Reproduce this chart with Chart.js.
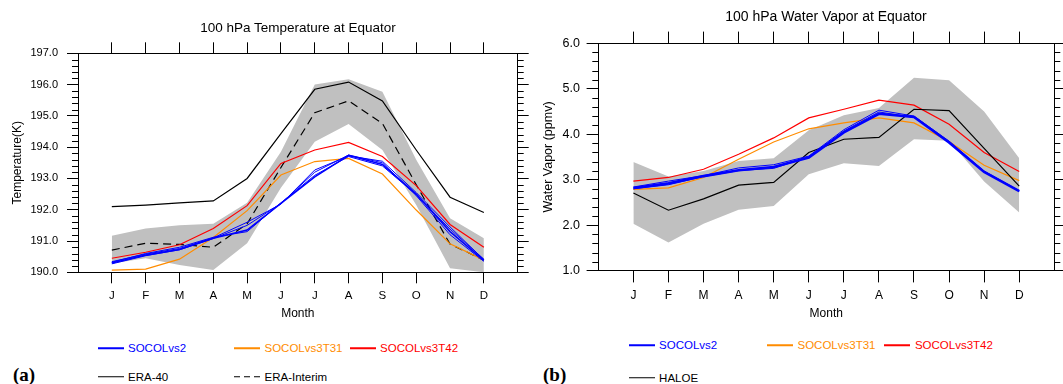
<!DOCTYPE html>
<html>
<head>
<meta charset="utf-8">
<script src="https://cdn.jsdelivr.net/npm/chart.js@4/dist/chart.umd.min.js"></script>
<style>
  html, body { margin:0; padding:0; background:#fff; }
  body { position:relative; width:1063px; height:384px; overflow:hidden;
         font-family:"Liberation Sans", Arial, Helvetica, sans-serif; color:#000; }
  canvas { position:absolute; top:0; }
  #chartT { left:0; }
  #chartW { left:530px; }
  .ttl { position:absolute; transform:translate(-50%,-50%); white-space:nowrap; }
  .lg-line { position:absolute; width:26px; height:1.5px; transform:translateY(-50%); }
  .lg-txt { position:absolute; transform:translateY(-50%); font-size:11.5px; white-space:nowrap; }
  .tag { position:absolute; transform:translateY(-50%); font-family:"Liberation Serif","Times New Roman",serif;
         font-weight:bold; font-size:19px; }
</style>
</head>
<body>
<canvas id="chartT" width="530" height="325"></canvas>
<canvas id="chartW" width="533" height="325"></canvas>
<div class="ttl" style="left:298px;top:26.7px;font-size:13.5px">100 hPa Temperature at Equator</div>
<div class="ttl" style="left:826px;top:15.7px;font-size:14px">100 hPa Water Vapor at Equator</div>
<div id="legend"></div>
<div class="tag" style="left:13px;top:375px">(a)</div>
<div class="tag" style="left:543px;top:375px">(b)</div>

<script>
// --- data ---
const months = ['J','F','M','A','M','J','J','A','S','O','N','D'];

// (a) 100 hPa temperature, K
const tempTicks = [190, 191, 192, 193, 194, 195, 196, 197];
const tempBandHi = [191.17, 191.40, 191.50, 191.55, 192.22, 193.85, 196.00, 196.17, 195.77, 193.60, 191.73, 191.09];
const tempBandLo = [190.28, 190.45, 190.23, 190.07, 190.93, 192.70, 194.17, 194.74, 193.91, 192.15, 190.13, 190.00];
const tempEra40  = [192.10, 192.15, 192.22, 192.28, 193.00, 194.43, 195.85, 196.08, 195.48, 193.91, 192.40, 191.91];
const tempEraInt = [190.71, 190.93, 190.89, 190.80, 191.55, 193.35, 195.10, 195.48, 194.76, 192.80, 190.90, 190.39];
const tempT42    = [190.45, 190.64, 190.88, 191.40, 192.13, 193.48, 193.91, 194.15, 193.70, 192.77, 191.53, 190.80];
const tempT31    = [190.07, 190.10, 190.42, 191.11, 191.97, 193.11, 193.54, 193.64, 193.14, 191.99, 190.91, 190.39];
const tempVs2a   = [190.30, 190.55, 190.73, 191.09, 191.35, 192.20, 193.05, 193.74, 193.45, 192.50, 191.30, 190.38];
const tempVs2b   = [190.34, 190.58, 190.76, 191.10, 191.60, 192.18, 193.27, 193.72, 193.55, 192.55, 191.45, 190.40];
const tempVs2c   = [190.27, 190.53, 190.72, 191.08, 191.50, 192.20, 193.20, 193.75, 193.50, 192.45, 191.20, 190.35];
const tempVs2d   = [190.32, 190.60, 190.80, 191.12, 191.30, 192.22, 193.10, 193.70, 193.40, 192.48, 191.38, 190.42];

// (b) 100 hPa water vapour, ppmv
const wvTicks = [1, 2, 3, 4, 5, 6];
const wvBandHi = [3.39, 3.07, 3.19, 3.41, 3.47, 4.09, 4.42, 4.58, 5.24, 5.19, 4.50, 3.47];
const wvBandLo = [2.03, 1.62, 2.03, 2.34, 2.42, 3.12, 3.36, 3.30, 3.89, 3.86, 2.96, 2.28];
const wvHaloe  = [2.71, 2.33, 2.58, 2.88, 2.94, 3.60, 3.89, 3.93, 4.55, 4.52, 3.69, 2.86];
const wvT42    = [2.97, 3.05, 3.23, 3.56, 3.92, 4.36, 4.55, 4.75, 4.64, 4.22, 3.60, 3.18];
const wvT31    = [2.79, 2.82, 3.05, 3.45, 3.83, 4.12, 4.25, 4.36, 4.25, 3.84, 3.32, 2.98];
const wvVs2a   = [2.82, 2.92, 3.08, 3.21, 3.28, 3.49, 4.04, 4.45, 4.38, 3.82, 3.17, 2.75];
const wvVs2b   = [2.84, 2.97, 3.09, 3.26, 3.33, 3.52, 4.10, 4.53, 4.40, 3.85, 3.19, 2.76];
const wvVs2c   = [2.80, 2.89, 3.07, 3.20, 3.25, 3.50, 4.07, 4.49, 4.37, 3.83, 3.18, 2.75];

const legendA = ['SOCOLvs2', 'SOCOLvs3T31', 'SOCOLvs3T42', 'ERA-40', 'ERA-Interim'];
const legendB = ['SOCOLvs2', 'SOCOLvs3T31', 'SOCOLvs3T42', 'HALOE'];

// --- styling ---
const BLUE = '#0000ff', ORANGE = '#ff8c00', RED = '#ff0000', BLACK = '#000000', GREY = '#c0c0c0';
const FONT = '"Liberation Sans", Arial, Helvetica, sans-serif';

const pts = (arr) => arr.map((v, i) => ({ x: i, y: v }));

const line = (data, color, width, dash) => ({
  data: pts(data), borderColor: color, borderWidth: width, borderDash: dash || [],
  pointRadius: 0, tension: 0, fill: false, order: 1
});

// minor y ticks (0.2 steps) on both sides, placed by the y scale
const minorTicks = {
  id: 'minorTicks',
  afterDraw(chart, args, opts) {
    const { ctx, chartArea: a } = chart;
    const y = chart.scales.y;
    const n = Math.round((y.max - y.min) / opts.step);
    ctx.save();
    ctx.strokeStyle = '#000';
    ctx.lineWidth = 1;
    ctx.beginPath();
    for (let k = 0; k <= n; k++) {
      if (k % opts.per === 0) continue;
      const p = Math.round(y.getPixelForValue(y.min + k * opts.step)) + 0.5;
      ctx.moveTo(a.left, p);  ctx.lineTo(a.left - opts.len, p);
      ctx.moveTo(a.right, p); ctx.lineTo(a.right + opts.len, p);
    }
    ctx.stroke();
    ctx.restore();
  }
};

const monthTicks = (s) => { s.ticks = months.map((m, i) => ({ value: i })); };

const makePanel = (id, o) => {
  const xCommon = {
    type: 'linear', min: -1, max: 12,
    afterBuildTicks: monthTicks,
    grid: { drawOnChartArea: false, drawTicks: true, tickLength: o.tickLen, color: '#000', tickWidth: 1 },
    border: { display: true, color: '#000', width: 1 }
  };
  const yCommon = {
    type: 'linear', min: o.ticks[0], max: o.ticks[o.ticks.length - 1],
    afterBuildTicks: (s) => { s.ticks = o.ticks.map(v => ({ value: v })); },
    grid: { drawOnChartArea: false, drawTicks: true, tickLength: o.tickLen, color: '#000', tickWidth: 1 },
    border: { display: true, color: '#000', width: 1 }
  };
  return new Chart(document.getElementById(id), {
    type: 'line',
    data: { datasets: [
      ...o.lines,
      { data: pts(o.hi), borderWidth: 0, pointRadius: 0, backgroundColor: GREY, fill: '+1', order: 10 },
      { data: pts(o.lo), borderWidth: 0, pointRadius: 0, fill: false, order: 11 }
    ] },
    options: {
      responsive: false, animation: false, devicePixelRatio: 1,
      layout: { padding: 0 },
      plugins: { legend: { display: false }, tooltip: { enabled: false },
                 minorTicks: { step: o.minor, per: o.per, len: 6 } },
      scales: {
        x: { ...xCommon, position: 'bottom',
             ticks: { autoSkip: false, maxRotation: 0, padding: 6, color: '#000',
                      font: { family: FONT, size: o.monthSize }, callback: v => months[v] ?? '' },
             title: { display: true, text: 'Month', color: '#000', padding: { top: 0, bottom: 4 },
                      font: { family: FONT, size: 12 } },
             afterFit: s => { s.height = o.box.bottom; } },
        x2: { ...xCommon, position: 'top', ticks: { display: false },
              afterFit: s => { s.height = o.box.top; } },
        y: { ...yCommon, position: 'left',
             ticks: { padding: o.labelPad, color: '#000', font: { family: FONT, size: o.tickSize },
                      callback: v => Number(v).toFixed(1) },
             title: { display: true, text: o.yTitle, color: '#000', padding: { top: o.titlePad, bottom: 0 },
                      font: { family: FONT, size: o.yTitleSize } },
             afterFit: s => { s.width = o.box.left; } },
        y2: { ...yCommon, position: 'right', ticks: { display: false },
              afterFit: s => { s.width = o.box.right; } }
      }
    },
    plugins: [minorTicks]
  });
};

makePanel('chartT', {
  ticks: tempTicks, minor: 0.2, per: 5, tickLen: 11,
  hi: tempBandHi, lo: tempBandLo,
  box: { left: 78, right: 12.3, top: 53.3, bottom: 52.7 },
  monthSize: 11.5, tickSize: 11, labelPad: 9, yTitle: 'Temperature(K)', yTitleSize: 12, titlePad: 10.8,
  lines: [
    line(tempVs2a, BLUE, 1.6), line(tempVs2b, BLUE, 1), line(tempVs2c, BLUE, 1), line(tempVs2d, BLUE, 1),
    line(tempT42, RED, 1.2), line(tempT31, ORANGE, 1.2),
    line(tempEraInt, BLACK, 1.2, [8, 5]), line(tempEra40, BLACK, 1.2)
  ]
});

makePanel('chartW', {
  ticks: wvTicks, minor: 0.2, per: 5, tickLen: 11.7,
  hi: wvBandHi, lo: wvBandLo,
  box: { left: 68.3, right: 8.7, top: 43.3, bottom: 54.3 },
  monthSize: 12, tickSize: 12.5, labelPad: 6.6, yTitle: 'Water Vapor (ppmv)', yTitleSize: 12.5, titlePad: 11.2,
  lines: [
    line(wvVs2a, BLUE, 2.6), line(wvVs2b, BLUE, 1), line(wvVs2c, BLUE, 1),
    line(wvHaloe, BLACK, 1.2), line(wvT42, RED, 1.2), line(wvT31, ORANGE, 1.2)
  ]
});

// --- legends (HTML) ---
const legendWrap = document.getElementById('legend');
const addItem = (label, color, x, y, dashed) => {
  const ln = document.createElement('div');
  ln.className = 'lg-line';
  ln.style.left = x + 'px';
  ln.style.top = y + 'px';
  ln.style.background = dashed
    ? `repeating-linear-gradient(to right, ${color} 0 6px, transparent 6px 10px)` : color;
  const tx = document.createElement('div');
  tx.className = 'lg-txt';
  tx.style.left = (x + 30.5) + 'px';
  tx.style.top = y + 'px';
  tx.style.color = color;
  tx.textContent = label;
  legendWrap.appendChild(ln);
  legendWrap.appendChild(tx);
};

addItem(legendA[0], BLUE,   97.5, 348);
addItem(legendA[1], ORANGE, 234,  348);
addItem(legendA[2], RED,    349.6, 348);
addItem(legendA[3], BLACK,  97.5, 376.7);
addItem(legendA[4], BLACK,  234,  376.7, true);

addItem(legendB[0], BLUE,   628.6, 345);
addItem(legendB[1], ORANGE, 767,   345);
addItem(legendB[2], RED,    884.4, 345);
addItem(legendB[3], BLACK,  628.6, 377.7);
</script>
</body>
</html>
